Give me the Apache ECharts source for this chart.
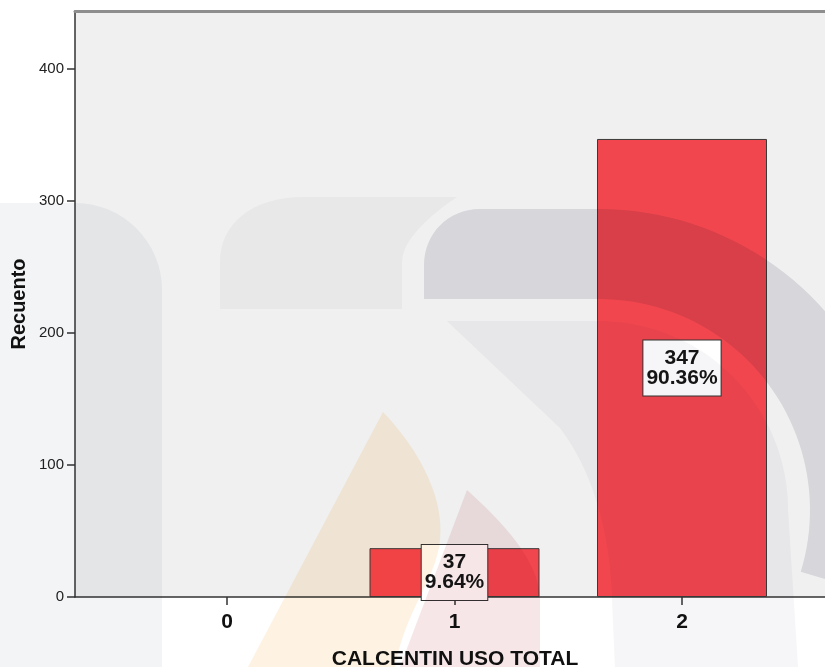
<!DOCTYPE html>
<html>
<head>
<meta charset="utf-8">
<script src="https://cdn.jsdelivr.net/npm/echarts@6/dist/echarts.min.js"></script>
<style>
  html, body { margin: 0; padding: 0; background: #ffffff; }
  #chart { width: 825px; height: 667px; }
</style>
</head>
<body>
<div id="chart"></div>
<script>
// Frequency table: CALCENTIN USO TOTAL
const categories = ['0', '1', '2'];
const counts = [0, 37, 347];
const yTicks = [0, 100, 200, 300, 400];
const xTitle = 'CALCENTIN USO TOTAL';
const yTitle = 'Recuento';

const total = counts.reduce((a, b) => a + b, 0);
const FONT = '"Liberation Sans", Arial, Helvetica, sans-serif';
const yStep = yTicks[1] - yTicks[0];

// Faint institutional logo printed over the page (multiplied onto everything).
// Outlines: M/L = points, C = cubic bezier, ARC = circle arc (cx, cy, r, fromDeg, toDeg)
const logoShapes = [
  { c: 'rgb(243,244,246)', segs: [['M', 0, 203], ['L', 75, 203], ['C', 123, 203, 162, 242, 162, 290], ['L', 162, 667], ['L', 0, 667]] },
  { c: 'rgb(247,247,248)', segs: [['M', 220, 309], ['L', 220, 262], ['C', 220, 225, 250, 197, 305, 197], ['L', 457, 197], ['C', 430, 215, 402, 240, 402, 262], ['L', 402, 309]] },
  { c: 'rgb(228,228,233)', segs: [['M', 424, 299], ['L', 424, 265], ['C', 424, 234, 448, 209, 480, 209], ['L', 599, 209], ['ARC', 599, 510, 301, -90, 17], ['ARC', 599, 510, 211, 17, -90]] },
  { c: 'rgb(246,246,248)', segs: [['M', 447, 321], ['L', 599, 321], ['ARC', 599, 510, 189, -90, 0], ['L', 798, 667], ['L', 615, 667], ['L', 612, 597], ['C', 610, 550, 600, 480, 560, 428]] },
  { c: 'rgb(254,242,226)', segs: [['M', 383, 412], ['C', 410, 440, 445, 490, 440, 540], ['C', 436, 580, 405, 610, 395, 667], ['L', 248, 667]] },
  { c: 'rgb(246,230,232)', segs: [['M', 467, 490], ['C', 500, 520, 540, 560, 540, 600], ['L', 540, 667], ['L', 400, 667]] }
];

function outlinePoints(segs) {
  const pts = [];
  let cur = [0, 0];
  segs.forEach(s => {
    if (s[0] === 'M' || s[0] === 'L') {
      cur = [s[1], s[2]];
      pts.push(cur);
    } else if (s[0] === 'C') {
      const [x0, y0] = cur;
      for (let k = 1; k <= 16; k++) {
        const t = k / 16, u = 1 - t;
        const x = u * u * u * x0 + 3 * u * u * t * s[1] + 3 * u * t * t * s[3] + t * t * t * s[5];
        const y = u * u * u * y0 + 3 * u * u * t * s[2] + 3 * u * t * t * s[4] + t * t * t * s[6];
        pts.push([x, y]);
      }
      cur = [s[5], s[6]];
    } else if (s[0] === 'ARC') {
      const [, cx, cy, r, a0, a1] = s;
      const n = 48;
      for (let k = 0; k <= n; k++) {
        const a = (a0 + (a1 - a0) * k / n) * Math.PI / 180;
        pts.push([cx + r * Math.cos(a), cy + r * Math.sin(a)]);
      }
      cur = pts[pts.length - 1];
    }
  });
  return pts;
}

const chart = echarts.init(document.getElementById('chart'), null, { renderer: 'canvas' });

const barData = counts.map(v => ({
  value: v,
  label: { show: v > 0 },
  itemStyle: v > 0 ? {} : { borderWidth: 0 }
}));

const option = {
  backgroundColor: '#ffffff',
  animation: false,
  grid: [
    // plot frame with grey background
    { left: 75, top: 11, right: -10, bottom: 70, show: true, backgroundColor: '#f0f0f0', borderWidth: 0, outerBoundsMode: 'none', containLabel: false },
    // data area holding the three category positions
    { left: 227, top: 69, right: 143, bottom: 70, outerBoundsMode: 'none', containLabel: false }
  ],
  xAxis: [
    {
      gridIndex: 0, type: 'value', min: 0, max: 1, position: 'bottom',
      axisLine: { show: true, lineStyle: { color: '#333333', width: 1.5 } },
      axisTick: { show: false }, axisLabel: { show: false }, splitLine: { show: false },
      name: xTitle, nameLocation: 'middle', nameGap: 52,
      nameTextStyle: { fontFamily: FONT, fontSize: 21, fontWeight: 'bold', color: '#111111' }
    },
    {
      gridIndex: 0, type: 'value', min: 0, max: 1, position: 'top',
      axisLine: { show: true, lineStyle: { color: '#8e8e8e', width: 3 } },
      axisTick: { show: false }, axisLabel: { show: false }, splitLine: { show: false }
    },
    {
      gridIndex: 1, type: 'category', data: categories, boundaryGap: false,
      axisLine: { show: false },
      axisTick: { show: true, length: 8, lineStyle: { color: '#333333', width: 1.5 } },
      axisLabel: { fontFamily: FONT, fontSize: 21, fontWeight: 'bold', color: '#111111', margin: 15 },
      splitLine: { show: false }
    }
  ],
  yAxis: [
    {
      gridIndex: 0, type: 'value', min: 0, max: 1,
      axisLine: { show: true, lineStyle: { color: '#333333', width: 1.5 } },
      axisTick: { show: false }, axisLabel: { show: false }, splitLine: { show: false },
      name: yTitle, nameLocation: 'middle', nameGap: 46, nameRotate: 90,
      nameTextStyle: { fontFamily: FONT, fontSize: 20, fontWeight: 'bold', color: '#111111' }
    },
    {
      gridIndex: 1, type: 'value',
      min: yTicks[0], max: yTicks[yTicks.length - 1], interval: yStep,
      offset: 152,
      axisLine: { show: false },
      axisTick: { show: true, length: 8, lineStyle: { color: '#333333', width: 1.5 } },
      axisLabel: { fontFamily: FONT, fontSize: 15, color: '#222222', margin: 11 },
      splitLine: { show: false }
    }
  ],
  series: [
    {
      type: 'bar',
      xAxisIndex: 2,
      yAxisIndex: 1,
      data: barData,
      barWidth: 170,
      clip: false,
      itemStyle: { color: '#f2464f', borderColor: '#3a3a3a', borderWidth: 1 },
      label: {
        position: 'inside',
        formatter: p => counts[p.dataIndex] + '\n' + (counts[p.dataIndex] / total * 100).toFixed(2) + '%',
        fontFamily: FONT,
        fontSize: 21,
        fontWeight: 'bold',
        lineHeight: 20,
        color: '#151515',
        backgroundColor: '#ffffff',
        borderColor: '#333333',
        borderWidth: 1,
        padding: [8, 3, 7, 3],
        align: 'center'
      }
    }
  ],
  graphic: {
    elements: logoShapes.map(s => ({
      type: 'polygon',
      silent: true,
      z: 100,
      shape: { points: outlinePoints(s.segs) },
      style: { fill: s.c, blend: 'multiply' }
    }))
  }
};

chart.setOption(option);
</script>
</body>
</html>
